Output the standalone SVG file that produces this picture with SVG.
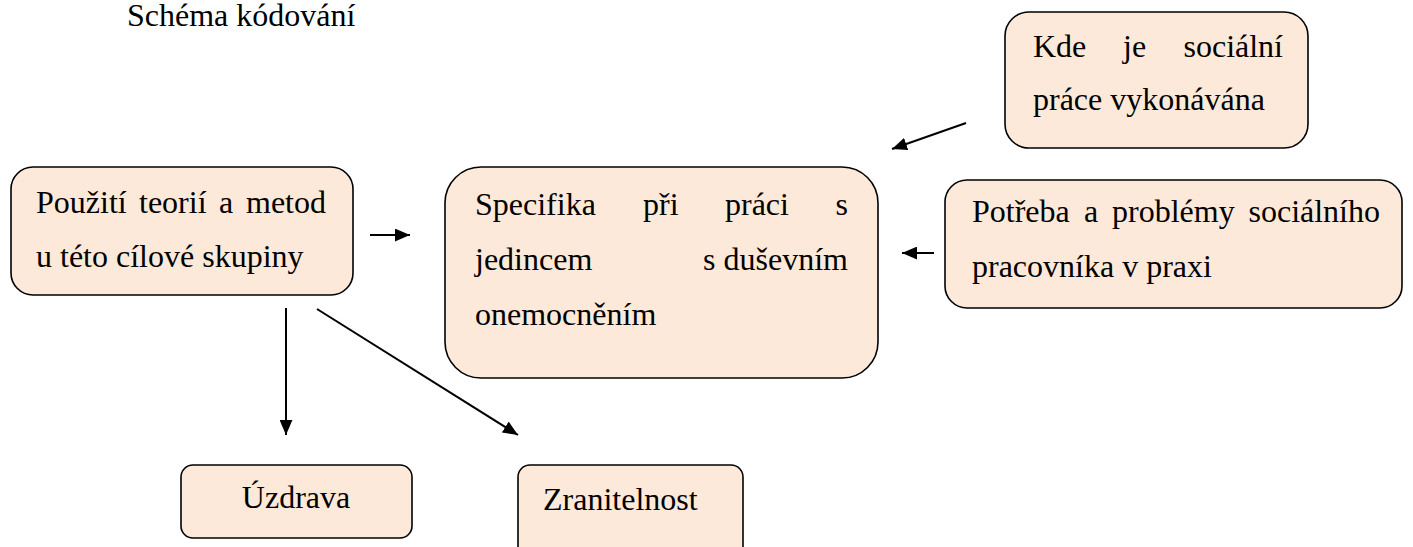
<svg xmlns="http://www.w3.org/2000/svg" width="1413" height="547" viewBox="0 0 1413 547">
<defs>
<style>
.box{fill:#FDE9D9;stroke:#000;stroke-width:1.6}
.t{font-family:"Liberation Serif","Times New Roman",serif;font-size:32px;fill:#000}
.c{stroke:#000;stroke-width:2;fill:none}
</style>
<marker id="a" viewBox="0 0 14 12" refX="14" refY="6" markerWidth="15" markerHeight="13" markerUnits="userSpaceOnUse" orient="auto">
<path d="M0,0 L14,6 L0,12 z" fill="#000"/>
</marker>
</defs>
<rect width="1413" height="547" fill="#fff"/>
<text class="t" x="127" y="26">Schéma kódování</text>

<g id="connectors">
<line class="c" x1="370" y1="235" x2="410" y2="235" marker-end="url(#a)"/>
<line class="c" x1="966" y1="123" x2="892" y2="149" marker-end="url(#a)"/>
<line class="c" x1="934" y1="253" x2="902" y2="253" marker-end="url(#a)"/>
<line class="c" x1="286" y1="308" x2="286" y2="435" marker-end="url(#a)"/>
<line class="c" x1="317" y1="309" x2="518" y2="435" marker-end="url(#a)"/>
</g>

<g id="node-pouziti">
<rect class="box" x="11" y="167" width="342" height="128" rx="22"/>
<text class="t" y="213"><tspan x="36">Použití</tspan><tspan x="139">teorií</tspan><tspan x="219">a</tspan><tspan x="326" text-anchor="end">metod</tspan></text>
<text class="t" x="36" y="267">u této cílové skupiny</text>
</g>

<g id="node-specifika">
<rect class="box" x="445" y="167" width="433" height="211" rx="36"/>
<text class="t" y="215"><tspan x="475">Specifika</tspan><tspan x="643">při</tspan><tspan x="725">práci</tspan><tspan x="848" text-anchor="end">s</tspan></text>
<text class="t" y="270"><tspan x="475">jedincem</tspan><tspan x="848" text-anchor="end">s duševním</tspan></text>
<text class="t" x="475" y="325">onemocněním</text>
</g>

<g id="node-kde">
<rect class="box" x="1005" y="12" width="303" height="136" rx="24"/>
<text class="t" y="57"><tspan x="1033">Kde</tspan><tspan x="1123">je</tspan><tspan x="1283" text-anchor="end">sociální</tspan></text>
<text class="t" x="1033" y="110">práce vykonávána</text>
</g>

<g id="node-potreba">
<rect class="box" x="945" y="180" width="457" height="128" rx="22"/>
<text class="t" y="222"><tspan x="972">Potřeba</tspan><tspan x="1084">a</tspan><tspan x="1112">problémy</tspan><tspan x="1380" text-anchor="end">sociálního</tspan></text>
<text class="t" x="972" y="277">pracovníka v praxi</text>
</g>

<g id="node-uzdrava">
<rect class="box" x="181" y="465" width="231" height="73" rx="12"/>
<text class="t" x="296" y="508" text-anchor="middle">Úzdrava</text>
</g>

<g id="node-zranitelnost">
<rect class="box" x="518" y="465" width="225" height="100" rx="12"/>
<text class="t" x="543" y="510">Zranitelnost</text>
</g>
</svg>
